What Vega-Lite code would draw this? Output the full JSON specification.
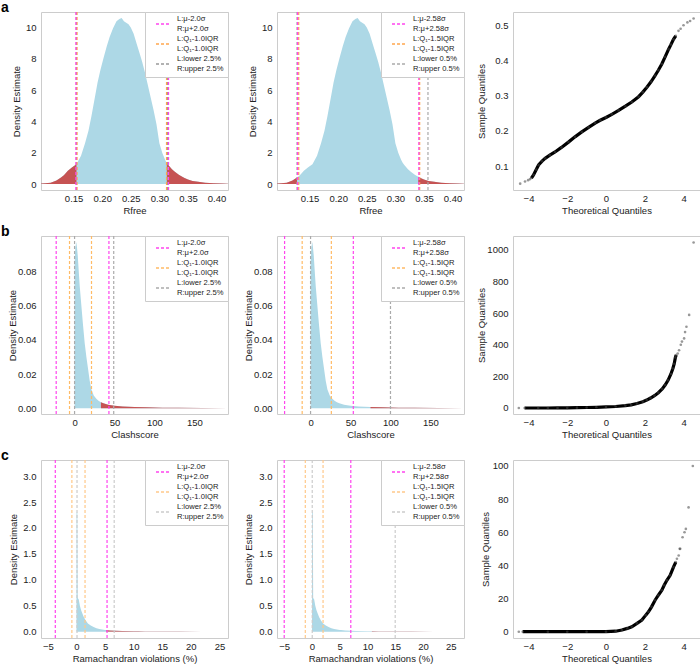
{
  "$schema": "https://vega.github.io/schema/vega-lite/v6.json",
  "padding": {"left": 0, "top": 0, "right": 0, "bottom": 0},
  "config": {
    "font": "Liberation Sans",
    "view": {"stroke": "#cccccc", "strokeWidth": 1},
    "axis": {"domain": false, "ticks": false, "grid": false, "labelOverlap": false, "tickCount": 20, "labelFont": "Liberation Sans", "labelFontSize": 9.5, "labelColor": "#222222", "titleFont": "Liberation Sans", "titleFontSize": 9.5, "titleFontWeight": "normal", "titleColor": "#222222", "labelPadding": 3, "titlePadding": 3},
    "axisY": {"titleBaseline": "middle", "labelPadding": 5},
    "legend": {"orient": "top-right", "offset": 0, "fillColor": "white", "strokeColor": "#cccccc", "padding": 4, "symbolType": "stroke", "symbolDash": [3, 2], "symbolStrokeWidth": 1.5, "symbolSize": 196, "symbolOffset": 6, "labelOffset": 6, "labelFont": "Liberation Sans", "labelFontSize": 7.6, "labelColor": "#222222", "rowPadding": 2, "cornerRadius": 0},
    "title": {"anchor": "start", "frame": "group", "font": "Liberation Sans", "fontSize": 14, "fontWeight": "bold", "color": "#000000", "baseline": "alphabetic", "offset": 0, "dx": -40, "dy": 8}
  },
  "datasets": {
    "rfree": [
      {"x": 0.093, "y": 0.03}, {"x": 0.100, "y": 0.05}, {"x": 0.110, "y": 0.09}, {"x": 0.120, "y": 0.22},
      {"x": 0.128, "y": 0.42}, {"x": 0.133, "y": 0.57}, {"x": 0.140, "y": 0.85}, {"x": 0.147, "y": 1.05},
      {"x": 0.155, "y": 1.27}, {"x": 0.163, "y": 1.8}, {"x": 0.170, "y": 2.6}, {"x": 0.176, "y": 3.4},
      {"x": 0.181, "y": 4.3}, {"x": 0.187, "y": 5.5}, {"x": 0.192, "y": 6.5}, {"x": 0.197, "y": 7.3},
      {"x": 0.202, "y": 8.0}, {"x": 0.208, "y": 8.8}, {"x": 0.213, "y": 9.4}, {"x": 0.219, "y": 9.95},
      {"x": 0.225, "y": 10.4}, {"x": 0.230, "y": 10.55}, {"x": 0.234, "y": 10.6}, {"x": 0.238, "y": 10.4},
      {"x": 0.242, "y": 10.3}, {"x": 0.246, "y": 10.2}, {"x": 0.250, "y": 10.0}, {"x": 0.255, "y": 9.6},
      {"x": 0.260, "y": 9.0}, {"x": 0.265, "y": 8.4}, {"x": 0.270, "y": 7.8}, {"x": 0.275, "y": 7.1},
      {"x": 0.280, "y": 6.3}, {"x": 0.285, "y": 5.5}, {"x": 0.290, "y": 4.7}, {"x": 0.295, "y": 3.8},
      {"x": 0.300, "y": 2.6}, {"x": 0.305, "y": 2.0}, {"x": 0.310, "y": 1.55}, {"x": 0.313, "y": 1.35},
      {"x": 0.316, "y": 1.2}, {"x": 0.322, "y": 0.95}, {"x": 0.327, "y": 0.78}, {"x": 0.334, "y": 0.6},
      {"x": 0.340, "y": 0.46}, {"x": 0.344, "y": 0.38}, {"x": 0.350, "y": 0.29}, {"x": 0.358, "y": 0.2},
      {"x": 0.368, "y": 0.14}, {"x": 0.380, "y": 0.09}, {"x": 0.395, "y": 0.05}, {"x": 0.410, "y": 0.03},
      {"x": 0.421, "y": 0.02}
    ],
    "clash": [
      {"x": 0, "y": 0.085}, {"x": 1, "y": 0.094}, {"x": 2.1, "y": 0.097}, {"x": 3, "y": 0.094},
      {"x": 4, "y": 0.089}, {"x": 5.1, "y": 0.081}, {"x": 6.5, "y": 0.071}, {"x": 8.5, "y": 0.060},
      {"x": 10.5, "y": 0.049}, {"x": 12.7, "y": 0.038}, {"x": 14.8, "y": 0.030}, {"x": 16.9, "y": 0.023},
      {"x": 19, "y": 0.016}, {"x": 21.1, "y": 0.011}, {"x": 24, "y": 0.0075}, {"x": 27.5, "y": 0.0054},
      {"x": 30, "y": 0.0044}, {"x": 33, "y": 0.0036}, {"x": 36, "y": 0.003}, {"x": 42, "y": 0.0021},
      {"x": 50, "y": 0.0015}, {"x": 60, "y": 0.0011}, {"x": 75, "y": 0.0008}, {"x": 90, "y": 0.0006},
      {"x": 110, "y": 0.0004}, {"x": 130, "y": 0.0003}, {"x": 160, "y": 0.0002}, {"x": 192, "y": 0.0001}
    ],
    "rama": [
      {"x": 0, "y": 0}, {"x": 0.02, "y": 2.3}, {"x": 0.15, "y": 2.3}, {"x": 0.22, "y": 0.65},
      {"x": 0.4, "y": 0.62}, {"x": 0.6, "y": 0.5}, {"x": 0.8, "y": 0.42}, {"x": 1.0, "y": 0.36},
      {"x": 1.3, "y": 0.28}, {"x": 1.6, "y": 0.22}, {"x": 2.0, "y": 0.16}, {"x": 2.5, "y": 0.12},
      {"x": 3.0, "y": 0.09}, {"x": 3.5, "y": 0.07}, {"x": 4.0, "y": 0.055}, {"x": 5.0, "y": 0.035},
      {"x": 5.2, "y": 0.033}, {"x": 6.0, "y": 0.024}, {"x": 7.0, "y": 0.018}, {"x": 8.0, "y": 0.014},
      {"x": 10, "y": 0.009}, {"x": 10.8, "y": 0.008}, {"x": 12, "y": 0.006}, {"x": 15, "y": 0.004},
      {"x": 18, "y": 0.003}, {"x": 22, "y": 0.002}, {"x": 27.4, "y": 0.001}
    ],
    "cuts": [
      {"panel": "a1", "kind": "L:lower 2.5%|R:upper 2.5%", "x": 0.155}, {"panel": "a1", "kind": "L:lower 2.5%|R:upper 2.5%", "x": 0.314},
      {"panel": "a1", "kind": "L:Q₁-1.0IQR|L:Q₁-1.0IQR", "x": 0.156}, {"panel": "a1", "kind": "L:Q₁-1.0IQR|L:Q₁-1.0IQR", "x": 0.3125},
      {"panel": "a1", "kind": "L:μ-2.0σ|R:μ+2.0σ", "x": 0.154}, {"panel": "a1", "kind": "L:μ-2.0σ|R:μ+2.0σ", "x": 0.316},
      {"panel": "a2", "kind": "L:lower 0.5%|R:upper 0.5%", "x": 0.128}, {"panel": "a2", "kind": "L:lower 0.5%|R:upper 0.5%", "x": 0.357},
      {"panel": "a2", "kind": "L:Q₁-1.5IQR|L:Q₁-1.5IQR", "x": 0.131}, {"panel": "a2", "kind": "L:Q₁-1.5IQR|L:Q₁-1.5IQR", "x": 0.3425},
      {"panel": "a2", "kind": "L:μ-2.58σ|R:μ+2.58σ", "x": 0.129}, {"panel": "a2", "kind": "L:μ-2.58σ|R:μ+2.58σ", "x": 0.341},
      {"panel": "b1", "kind": "L:μ-2.0σ|R:μ+2.0σ", "x": -23}, {"panel": "b1", "kind": "L:μ-2.0σ|R:μ+2.0σ", "x": 43},
      {"panel": "b1", "kind": "L:Q₁-1.0IQR|L:Q₁-1.0IQR", "x": -6.3}, {"panel": "b1", "kind": "L:Q₁-1.0IQR|L:Q₁-1.0IQR", "x": 21.2},
      {"panel": "b1", "kind": "L:lower 2.5%|R:upper 2.5%", "x": 0}, {"panel": "b1", "kind": "L:lower 2.5%|R:upper 2.5%", "x": 49},
      {"panel": "b2", "kind": "L:μ-2.58σ|R:μ+2.58σ", "x": -32.5}, {"panel": "b2", "kind": "L:μ-2.58σ|R:μ+2.58σ", "x": 53.5},
      {"panel": "b2", "kind": "L:Q₁-1.5IQR|L:Q₁-1.5IQR", "x": -10.5}, {"panel": "b2", "kind": "L:Q₁-1.5IQR|L:Q₁-1.5IQR", "x": 26},
      {"panel": "b2", "kind": "L:lower 0.5%|R:upper 0.5%", "x": 0}, {"panel": "b2", "kind": "L:lower 0.5%|R:upper 0.5%", "x": 100},
      {"panel": "c1", "kind": "L:μ-2.0σ|R:μ+2.0σ", "x": -3.7}, {"panel": "c1", "kind": "L:μ-2.0σ|R:μ+2.0σ", "x": 5.35},
      {"panel": "c1", "kind": "L:Q₁-1.0IQR|L:Q₁-1.0IQR", "x": -0.8}, {"panel": "c1", "kind": "L:Q₁-1.0IQR|L:Q₁-1.0IQR", "x": 1.5},
      {"panel": "c1", "kind": "L:lower 2.5%|R:upper 2.5%", "x": 0.1}, {"panel": "c1", "kind": "L:lower 2.5%|R:upper 2.5%", "x": 6.6},
      {"panel": "c2", "kind": "L:μ-2.58σ|R:μ+2.58σ", "x": -5.0}, {"panel": "c2", "kind": "L:μ-2.58σ|R:μ+2.58σ", "x": 7.0},
      {"panel": "c2", "kind": "L:Q₁-1.5IQR|L:Q₁-1.5IQR", "x": -1.2}, {"panel": "c2", "kind": "L:Q₁-1.5IQR|L:Q₁-1.5IQR", "x": 2.0},
      {"panel": "c2", "kind": "L:lower 0.5%|R:upper 0.5%", "x": 0.05}, {"panel": "c2", "kind": "L:lower 0.5%|R:upper 0.5%", "x": 15}
    ],
    "qq_rfree": [
      {"x": -4.43, "y": 0.050, "sparse": true}, {"x": -4.18, "y": 0.056, "sparse": true}, {"x": -4.02, "y": 0.060, "sparse": true}, {"x": -3.92, "y": 0.063, "sparse": true},
      {"x": -3.85, "y": 0.066, "sparse": false}, {"x": -3.74, "y": 0.075, "sparse": false}, {"x": -3.6, "y": 0.09, "sparse": false}, {"x": -3.48, "y": 0.103, "sparse": false},
      {"x": -3.3, "y": 0.114, "sparse": false}, {"x": -3.14, "y": 0.122, "sparse": false}, {"x": -2.9, "y": 0.131, "sparse": false}, {"x": -2.63, "y": 0.140, "sparse": false},
      {"x": -2.3, "y": 0.153, "sparse": false}, {"x": -1.94, "y": 0.168, "sparse": false}, {"x": -1.6, "y": 0.183, "sparse": false}, {"x": -1.25, "y": 0.197, "sparse": false},
      {"x": -0.9, "y": 0.21, "sparse": false}, {"x": -0.56, "y": 0.222, "sparse": false}, {"x": -0.3, "y": 0.23, "sparse": false}, {"x": 0, "y": 0.238, "sparse": false},
      {"x": 0.3, "y": 0.247, "sparse": false}, {"x": 0.65, "y": 0.258, "sparse": false}, {"x": 1.0, "y": 0.27, "sparse": false}, {"x": 1.33, "y": 0.282, "sparse": false},
      {"x": 1.68, "y": 0.297, "sparse": false}, {"x": 1.9, "y": 0.31, "sparse": false}, {"x": 2.11, "y": 0.324, "sparse": false}, {"x": 2.33, "y": 0.34, "sparse": false},
      {"x": 2.53, "y": 0.357, "sparse": false}, {"x": 2.7, "y": 0.372, "sparse": false}, {"x": 2.88, "y": 0.39, "sparse": false}, {"x": 3.05, "y": 0.41, "sparse": false},
      {"x": 3.23, "y": 0.432, "sparse": false}, {"x": 3.35, "y": 0.445, "sparse": false}, {"x": 3.48, "y": 0.46, "sparse": false}, {"x": 3.6, "y": 0.47, "sparse": false},
      {"x": 3.74, "y": 0.484, "sparse": true}, {"x": 3.85, "y": 0.49, "sparse": true}, {"x": 4.0, "y": 0.500, "sparse": true}, {"x": 4.2, "y": 0.508, "sparse": true},
      {"x": 4.34, "y": 0.512, "sparse": true}, {"x": 4.52, "y": 0.519, "sparse": true}
    ],
    "qq_clash": [
      {"x": -4.5, "y": 0, "sparse": true}, {"x": -4.2, "y": 0, "sparse": false}, {"x": -3.5, "y": 0, "sparse": false}, {"x": -3, "y": 0, "sparse": false},
      {"x": -2.5, "y": 0.5, "sparse": false}, {"x": -2, "y": 1, "sparse": false}, {"x": -1.5, "y": 2, "sparse": false}, {"x": -1, "y": 3, "sparse": false},
      {"x": -0.5, "y": 4.5, "sparse": false}, {"x": 0, "y": 6.5, "sparse": false}, {"x": 0.5, "y": 9.5, "sparse": false}, {"x": 1, "y": 15, "sparse": false},
      {"x": 1.3, "y": 20, "sparse": false}, {"x": 1.6, "y": 28, "sparse": false}, {"x": 1.9, "y": 40, "sparse": false}, {"x": 2.1, "y": 50, "sparse": false},
      {"x": 2.3, "y": 63, "sparse": false}, {"x": 2.5, "y": 78, "sparse": false}, {"x": 2.7, "y": 97, "sparse": false}, {"x": 2.9, "y": 120, "sparse": false},
      {"x": 3.05, "y": 145, "sparse": false}, {"x": 3.2, "y": 175, "sparse": false}, {"x": 3.35, "y": 215, "sparse": false}, {"x": 3.45, "y": 250, "sparse": false},
      {"x": 3.52, "y": 280, "sparse": false}, {"x": 3.58, "y": 320, "sparse": false}, {"x": 3.62, "y": 335, "sparse": false},
      {"x": 3.7, "y": 345, "sparse": true}, {"x": 3.77, "y": 365, "sparse": true}, {"x": 3.86, "y": 400, "sparse": true}, {"x": 3.92, "y": 420, "sparse": true},
      {"x": 4.03, "y": 440, "sparse": true}, {"x": 4.08, "y": 480, "sparse": true}, {"x": 4.15, "y": 514, "sparse": true}, {"x": 4.29, "y": 589, "sparse": true},
      {"x": 4.52, "y": 1047, "sparse": true}
    ],
    "qq_rama": [
      {"x": -4.5, "y": 0, "sparse": true}, {"x": -4.3, "y": 0, "sparse": false}, {"x": -3, "y": 0, "sparse": false}, {"x": -2, "y": 0, "sparse": false},
      {"x": -1, "y": 0, "sparse": false}, {"x": 0, "y": 0, "sparse": false}, {"x": 0.5, "y": 0.3, "sparse": false}, {"x": 0.82, "y": 1.0, "sparse": false},
      {"x": 1.1, "y": 2, "sparse": false}, {"x": 1.33, "y": 3, "sparse": false}, {"x": 1.6, "y": 5, "sparse": false}, {"x": 1.85, "y": 7, "sparse": false},
      {"x": 2.05, "y": 10, "sparse": false}, {"x": 2.19, "y": 12, "sparse": false}, {"x": 2.35, "y": 15, "sparse": false}, {"x": 2.53, "y": 19, "sparse": false},
      {"x": 2.7, "y": 22, "sparse": false}, {"x": 2.88, "y": 25, "sparse": false}, {"x": 3.0, "y": 28, "sparse": false}, {"x": 3.14, "y": 31, "sparse": false},
      {"x": 3.31, "y": 34, "sparse": false}, {"x": 3.48, "y": 39, "sparse": false}, {"x": 3.6, "y": 42, "sparse": false},
      {"x": 3.66, "y": 44, "sparse": true}, {"x": 3.75, "y": 46, "sparse": true}, {"x": 3.8, "y": 50, "sparse": true}, {"x": 3.83, "y": 50, "sparse": true},
      {"x": 3.95, "y": 57, "sparse": true}, {"x": 4.05, "y": 60, "sparse": true}, {"x": 4.12, "y": 62, "sparse": true}, {"x": 4.26, "y": 75, "sparse": true},
      {"x": 4.48, "y": 100, "sparse": true}
    ]
  },
  "columns": 3,
  "spacing": {"row": 46, "column": 49},
  "bounds": "flush",
  "resolve": {"scale": {"stroke": "independent"}, "legend": {"stroke": "independent"}},
  "concat": [
    {
      "width": 187, "height": 178,
      "title": {"text": "a"},
      "layer": [
        {"data": {"name": "rfree"}, "mark": {"type": "area", "color": "#add8e6", "clip": true},
         "encoding": {
           "x": {"field": "x", "type": "quantitative", "scale": {"domain": [0.093, 0.42], "nice": false, "zero": false}, "axis": {"values": [0.15, 0.2, 0.25, 0.3, 0.35, 0.4], "tickCount": 20, "format": ".2f", "title": "Rfree", "labelOverlap": false}},
           "y": {"field": "y", "type": "quantitative", "scale": {"domain": [-0.38, 10.99], "nice": false, "zero": false}, "axis": {"values": [0, 2, 4, 6, 8, 10], "tickCount": 20, "format": ".0f", "title": "Density Estimate", "titleX": -25, "labelOverlap": false}},
           "y2": {"datum": 0}}},
        {"data": {"name": "rfree"}, "transform": [{"filter": {"field": "x", "lte": 0.155}}], "mark": {"type": "area", "color": "#c65353", "clip": true},
         "encoding": {"x": {"field": "x", "type": "quantitative"}, "y": {"field": "y", "type": "quantitative"}, "y2": {"datum": 0}}},
        {"data": {"name": "rfree"}, "transform": [{"filter": {"field": "x", "gte": 0.313}}], "mark": {"type": "area", "color": "#c65353", "clip": true},
         "encoding": {"x": {"field": "x", "type": "quantitative"}, "y": {"field": "y", "type": "quantitative"}, "y2": {"datum": 0}}},
        {"data": {"name": "cuts"}, "transform": [{"filter": {"field": "panel", "equal": "a1"}}], "mark": {"type": "rule", "strokeDash": [3, 2], "strokeWidth": 1.2},
         "encoding": {"x": {"field": "x", "type": "quantitative"},
           "stroke": {"field": "kind", "type": "nominal", "scale": {"domain": ["L:μ-2.0σ|R:μ+2.0σ", "L:Q₁-1.0IQR|L:Q₁-1.0IQR", "L:lower 2.5%|R:upper 2.5%"], "range": ["#ff44ee", "#ffa64d", "#999999"]}, "legend": {"title": null, "labelExpr": "split(datum.label, '|')", "encode": {"labels": {"update": {"dy": {"value": -5}}}}}}}}
      ]
    },
    {
      "width": 187, "height": 178,
      "layer": [
        {"data": {"name": "rfree"}, "mark": {"type": "area", "color": "#add8e6", "clip": true},
         "encoding": {
           "x": {"field": "x", "type": "quantitative", "scale": {"domain": [0.093, 0.42], "nice": false, "zero": false}, "axis": {"values": [0.15, 0.2, 0.25, 0.3, 0.35, 0.4], "tickCount": 20, "format": ".2f", "title": "Rfree", "labelOverlap": false}},
           "y": {"field": "y", "type": "quantitative", "scale": {"domain": [-0.38, 10.99], "nice": false, "zero": false}, "axis": {"values": [0, 2, 4, 6, 8, 10], "tickCount": 20, "format": ".0f", "title": "Density Estimate", "titleX": -25, "labelOverlap": false}},
           "y2": {"datum": 0}}},
        {"data": {"name": "rfree"}, "transform": [{"filter": {"field": "x", "lte": 0.128}}], "mark": {"type": "area", "color": "#c65353", "clip": true},
         "encoding": {"x": {"field": "x", "type": "quantitative"}, "y": {"field": "y", "type": "quantitative"}, "y2": {"datum": 0}}},
        {"data": {"name": "rfree"}, "transform": [{"filter": {"field": "x", "gte": 0.340}}], "mark": {"type": "area", "color": "#c65353", "clip": true},
         "encoding": {"x": {"field": "x", "type": "quantitative"}, "y": {"field": "y", "type": "quantitative"}, "y2": {"datum": 0}}},
        {"data": {"name": "cuts"}, "transform": [{"filter": {"field": "panel", "equal": "a2"}}], "mark": {"type": "rule", "strokeDash": [3, 2], "strokeWidth": 1.2},
         "encoding": {"x": {"field": "x", "type": "quantitative"},
           "stroke": {"field": "kind", "type": "nominal", "scale": {"domain": ["L:μ-2.58σ|R:μ+2.58σ", "L:Q₁-1.5IQR|L:Q₁-1.5IQR", "L:lower 0.5%|R:upper 0.5%"], "range": ["#ff44ee", "#ffa64d", "#aaaaaa"]}, "legend": {"title": null, "labelExpr": "split(datum.label, '|')", "encode": {"labels": {"update": {"dy": {"value": -5}}}}}}}}
      ]
    },
    {
      "width": 187, "height": 178,
      "layer": [
        {"data": {"name": "qq_rfree"}, "transform": [{"filter": {"field": "sparse", "equal": false}}], "mark": {"type": "line", "color": "#000000", "strokeWidth": 3.2},
         "encoding": {
           "x": {"field": "x", "type": "quantitative", "scale": {"domain": [-4.8, 4.85], "nice": false, "zero": false}, "axis": {"values": [-4, -2, 0, 2, 4], "tickCount": 20, "format": ".0f", "title": "Theoretical Quantiles", "labelOverlap": false}},
           "y": {"field": "y", "type": "quantitative", "scale": {"domain": [0.032, 0.5376], "nice": false, "zero": false}, "axis": {"values": [0.1, 0.2, 0.3, 0.4, 0.5], "tickCount": 20, "format": ".1f", "title": "Sample Quantiles", "titleX": -32, "labelOverlap": false}}}},
        {"data": {"name": "qq_rfree"}, "mark": {"type": "circle", "size": 7, "color": "#444444", "opacity": 0.55},
         "encoding": {"x": {"field": "x", "type": "quantitative"}, "y": {"field": "y", "type": "quantitative"}}}
      ]
    },
    {
      "width": 187, "height": 178,
      "title": {"text": "b"},
      "layer": [
        {"data": {"name": "clash"}, "mark": {"type": "area", "color": "#add8e6", "clip": true},
         "encoding": {
           "x": {"field": "x", "type": "quantitative", "scale": {"domain": [-42, 192], "nice": false, "zero": false}, "axis": {"values": [0, 50, 100, 150], "tickCount": 20, "format": ".0f", "title": "Clashscore", "labelOverlap": false}},
           "y": {"field": "y", "type": "quantitative", "scale": {"domain": [-0.0033, 0.1005], "nice": false, "zero": false}, "axis": {"values": [0, 0.02, 0.04, 0.06, 0.08], "tickCount": 20, "format": ".2f", "title": "Density Estimate", "titleX": -29, "labelOverlap": false}},
           "y2": {"datum": 0}}},
        {"data": {"name": "clash"}, "transform": [{"filter": {"field": "x", "gte": 33}}], "mark": {"type": "area", "color": "#c65353", "clip": true},
         "encoding": {"x": {"field": "x", "type": "quantitative"}, "y": {"field": "y", "type": "quantitative"}, "y2": {"datum": 0}}},
        {"data": {"name": "cuts"}, "transform": [{"filter": {"field": "panel", "equal": "b1"}}], "mark": {"type": "rule", "strokeDash": [3, 2], "strokeWidth": 1.2},
         "encoding": {"x": {"field": "x", "type": "quantitative"},
           "stroke": {"field": "kind", "type": "nominal", "scale": {"domain": ["L:μ-2.0σ|R:μ+2.0σ", "L:Q₁-1.0IQR|L:Q₁-1.0IQR", "L:lower 2.5%|R:upper 2.5%"], "range": ["#ff44ee", "#ffbb66", "#aaaaaa"]}, "legend": {"title": null, "labelExpr": "split(datum.label, '|')", "encode": {"labels": {"update": {"dy": {"value": -5}}}}}}}}
      ]
    },
    {
      "width": 187, "height": 178,
      "layer": [
        {"data": {"name": "clash"}, "mark": {"type": "area", "color": "#add8e6", "clip": true},
         "encoding": {
           "x": {"field": "x", "type": "quantitative", "scale": {"domain": [-42, 192], "nice": false, "zero": false}, "axis": {"values": [0, 50, 100, 150], "tickCount": 20, "format": ".0f", "title": "Clashscore", "labelOverlap": false}},
           "y": {"field": "y", "type": "quantitative", "scale": {"domain": [-0.0033, 0.1005], "nice": false, "zero": false}, "axis": {"values": [0, 0.02, 0.04, 0.06, 0.08], "tickCount": 20, "format": ".2f", "title": "Density Estimate", "titleX": -29, "labelOverlap": false}},
           "y2": {"datum": 0}}},
        {"data": {"name": "clash"}, "transform": [{"filter": {"field": "x", "gte": 75}}], "mark": {"type": "area", "color": "#c65353", "clip": true},
         "encoding": {"x": {"field": "x", "type": "quantitative"}, "y": {"field": "y", "type": "quantitative"}, "y2": {"datum": 0}}},
        {"data": {"name": "cuts"}, "transform": [{"filter": {"field": "panel", "equal": "b2"}}], "mark": {"type": "rule", "strokeDash": [3, 2], "strokeWidth": 1.2},
         "encoding": {"x": {"field": "x", "type": "quantitative"},
           "stroke": {"field": "kind", "type": "nominal", "scale": {"domain": ["L:μ-2.58σ|R:μ+2.58σ", "L:Q₁-1.5IQR|L:Q₁-1.5IQR", "L:lower 0.5%|R:upper 0.5%"], "range": ["#ff44ee", "#ffbb66", "#aaaaaa"]}, "legend": {"title": null, "labelExpr": "split(datum.label, '|')", "encode": {"labels": {"update": {"dy": {"value": -5}}}}}}}}
      ]
    },
    {
      "width": 187, "height": 178,
      "layer": [
        {"data": {"name": "qq_clash"}, "transform": [{"filter": {"field": "sparse", "equal": false}}], "mark": {"type": "line", "color": "#000000", "strokeWidth": 3.2},
         "encoding": {
           "x": {"field": "x", "type": "quantitative", "scale": {"domain": [-4.8, 4.85], "nice": false, "zero": false}, "axis": {"values": [-4, -2, 0, 2, 4], "tickCount": 20, "format": ".0f", "title": "Theoretical Quantiles", "labelOverlap": false}},
           "y": {"field": "y", "type": "quantitative", "scale": {"domain": [-38, 1088], "nice": false, "zero": false}, "axis": {"values": [0, 200, 400, 600, 800, 1000], "tickCount": 20, "format": ".0f", "title": "Sample Quantiles", "titleX": -32, "labelOverlap": false}}}},
        {"data": {"name": "qq_clash"}, "mark": {"type": "circle", "size": 7, "color": "#444444", "opacity": 0.55},
         "encoding": {"x": {"field": "x", "type": "quantitative"}, "y": {"field": "y", "type": "quantitative"}}}
      ]
    },
    {
      "width": 187, "height": 178,
      "title": {"text": "c"},
      "layer": [
        {"data": {"name": "rama"}, "mark": {"type": "area", "color": "#add8e6", "clip": true},
         "encoding": {
           "x": {"field": "x", "type": "quantitative", "scale": {"domain": [-6.2, 26.5], "nice": false, "zero": false}, "axis": {"values": [-5, 0, 5, 10, 15, 20, 25], "tickCount": 20, "format": ".0f", "title": "Ramachandran violations (%)", "labelOverlap": false}},
           "y": {"field": "y", "type": "quantitative", "scale": {"domain": [-0.12, 3.31], "nice": false, "zero": false}, "axis": {"values": [0, 0.5, 1, 1.5, 2, 2.5, 3], "tickCount": 20, "format": ".1f", "title": "Density Estimate", "titleX": -28, "labelOverlap": false}},
           "y2": {"datum": 0}}},
        {"data": {"name": "rama"}, "transform": [{"filter": {"field": "x", "gte": 5.2}}], "mark": {"type": "area", "color": "#d07070", "clip": true},
         "encoding": {"x": {"field": "x", "type": "quantitative"}, "y": {"field": "y", "type": "quantitative"}, "y2": {"datum": 0}}},
        {"data": {"name": "cuts"}, "transform": [{"filter": {"field": "panel", "equal": "c1"}}], "mark": {"type": "rule", "strokeDash": [3, 2], "strokeWidth": 1.2},
         "encoding": {"x": {"field": "x", "type": "quantitative"},
           "stroke": {"field": "kind", "type": "nominal", "scale": {"domain": ["L:μ-2.0σ|R:μ+2.0σ", "L:Q₁-1.0IQR|L:Q₁-1.0IQR", "L:lower 2.5%|R:upper 2.5%"], "range": ["#ff44ee", "#ffc98a", "#cccccc"]}, "legend": {"title": null, "labelExpr": "split(datum.label, '|')", "encode": {"labels": {"update": {"dy": {"value": -5}}}}}}}}
      ]
    },
    {
      "width": 187, "height": 178,
      "layer": [
        {"data": {"name": "rama"}, "mark": {"type": "area", "color": "#add8e6", "clip": true},
         "encoding": {
           "x": {"field": "x", "type": "quantitative", "scale": {"domain": [-6.3, 27.4], "nice": false, "zero": false}, "axis": {"values": [-5, 0, 5, 10, 15, 20, 25], "tickCount": 20, "format": ".0f", "title": "Ramachandran violations (%)", "labelOverlap": false}},
           "y": {"field": "y", "type": "quantitative", "scale": {"domain": [-0.12, 3.31], "nice": false, "zero": false}, "axis": {"values": [0, 0.5, 1, 1.5, 2, 2.5, 3], "tickCount": 20, "format": ".1f", "title": "Density Estimate", "titleX": -29, "labelOverlap": false}},
           "y2": {"datum": 0}}},
        {"data": {"name": "rama"}, "transform": [{"filter": {"field": "x", "gte": 10.8}}], "mark": {"type": "area", "color": "#d07070", "clip": true},
         "encoding": {"x": {"field": "x", "type": "quantitative"}, "y": {"field": "y", "type": "quantitative"}, "y2": {"datum": 0}}},
        {"data": {"name": "cuts"}, "transform": [{"filter": {"field": "panel", "equal": "c2"}}], "mark": {"type": "rule", "strokeDash": [3, 2], "strokeWidth": 1.2},
         "encoding": {"x": {"field": "x", "type": "quantitative"},
           "stroke": {"field": "kind", "type": "nominal", "scale": {"domain": ["L:μ-2.58σ|R:μ+2.58σ", "L:Q₁-1.5IQR|L:Q₁-1.5IQR", "L:lower 0.5%|R:upper 0.5%"], "range": ["#ff44ee", "#ffc98a", "#cccccc"]}, "legend": {"title": null, "labelExpr": "split(datum.label, '|')", "encode": {"labels": {"update": {"dy": {"value": -5}}}}}}}}
      ]
    },
    {
      "width": 187, "height": 178,
      "layer": [
        {"data": {"name": "qq_rama"}, "transform": [{"filter": {"field": "sparse", "equal": false}}], "mark": {"type": "line", "color": "#000000", "strokeWidth": 3.2},
         "encoding": {
           "x": {"field": "x", "type": "quantitative", "scale": {"domain": [-4.8, 4.85], "nice": false, "zero": false}, "axis": {"values": [-4, -2, 0, 2, 4], "tickCount": 20, "format": ".0f", "title": "Theoretical Quantiles", "labelOverlap": false}},
           "y": {"field": "y", "type": "quantitative", "scale": {"domain": [-3.8, 103.6], "nice": false, "zero": false}, "axis": {"values": [0, 20, 40, 60, 80, 100], "tickCount": 20, "format": ".0f", "title": "Sample Quantiles", "titleX": -28, "labelOverlap": false}}}},
        {"data": {"name": "qq_rama"}, "mark": {"type": "circle", "size": 7, "color": "#444444", "opacity": 0.55},
         "encoding": {"x": {"field": "x", "type": "quantitative"}, "y": {"field": "y", "type": "quantitative"}}}
      ]
    }
  ]
}
